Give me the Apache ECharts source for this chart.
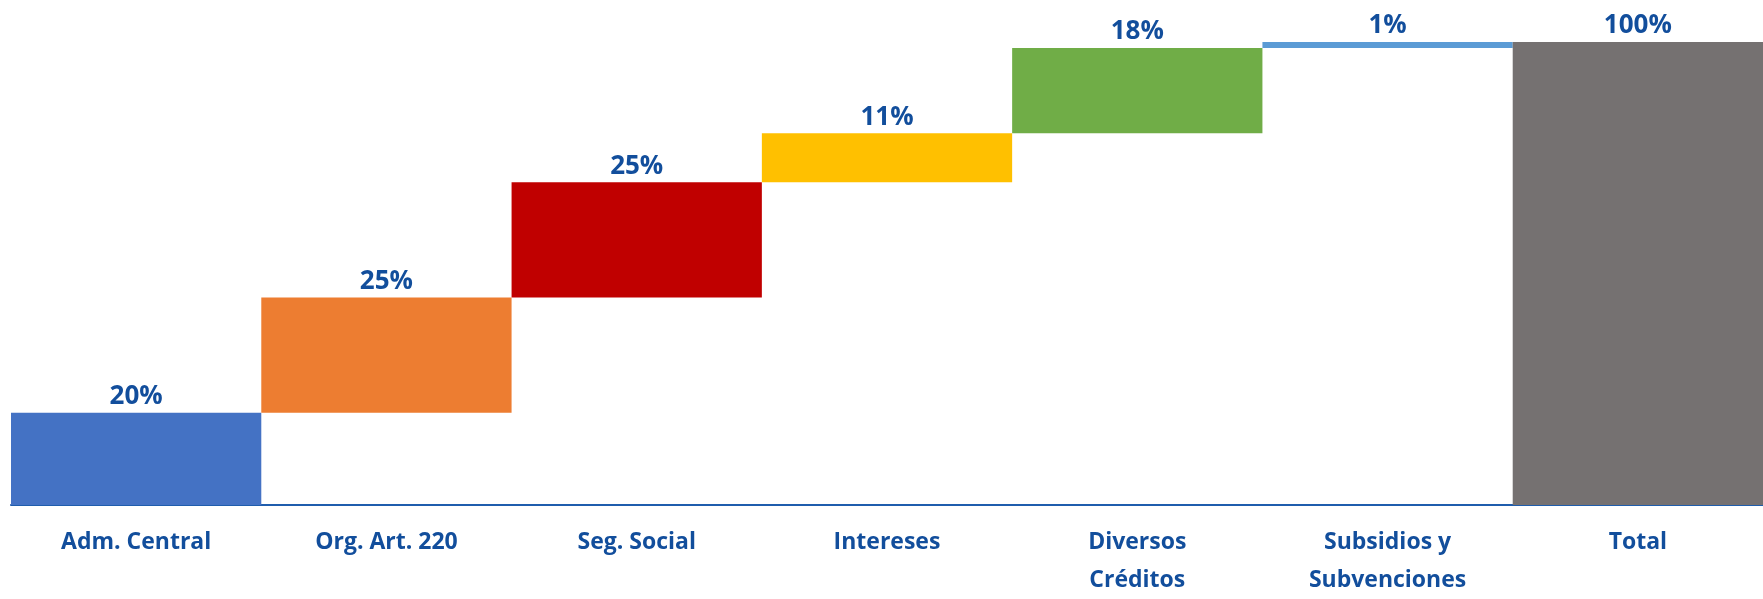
<!DOCTYPE html>
<html>
<head>
<meta charset="utf-8">
<script src="https://cdn.jsdelivr.net/npm/echarts@6/dist/echarts.min.js"></script>
<style>
html,body{margin:0;padding:0;background:#fff;}
#chart{width:1763px;height:599px;}
</style>
</head>
<body>
<div id="chart"></div>
<script>
var categories = ['Adm. Central', 'Org. Art. 220', 'Seg. Social', 'Intereses', 'Diversos\nCréditos', 'Subsidios y\nSubvenciones', 'Total'];
var deltas = [19.9, 24.9, 24.9, 10.6, 18.4, 1.3];
var totalValue = 100;
var colors = ['#4472C4', '#ED7D31', '#C00000', '#FFC000', '#70AD47', '#5B9BD5', '#757171'];

var bases = [];
var values = [];
var run = 0;
for (var i = 0; i < deltas.length; i++) {
  bases.push(run);
  values.push(deltas[i]);
  run += deltas[i];
}
bases.push(0);
values.push(totalValue);

var chart = echarts.init(document.getElementById('chart'), null, {renderer: 'canvas'});
chart.setOption({
  animation: false,
  backgroundColor: '#ffffff',
  grid: {left: 11, top: 42, width: 1771, bottom: 85, containLabel: false},
  xAxis: {
    type: 'category',
    data: categories,
    axisTick: {show: false},
    axisLine: {lineStyle: {color: '#1F5DAD', width: 2}},
    axisLabel: {
      interval: 0,
      margin: 18,
      color: '#124E9C',
      fontFamily: 'Open Sans',
      fontWeight: 'bold',
      fontSize: 23,
      lineHeight: 38
    }
  },
  yAxis: {
    type: 'value',
    min: 0,
    max: 100,
    show: false,
    splitLine: {show: false}
  },
  series: [
    {
      name: 'base',
      type: 'bar',
      stack: 'w',
      barCategoryGap: 0,
      barGap: '-100%',
      itemStyle: {color: 'transparent'},
      emphasis: {disabled: true},
      data: bases
    },
    {
      name: 'value',
      type: 'bar',
      stack: 'w',
      barCategoryGap: 0,
      data: values.map(function (v, i) {
        return {value: v, itemStyle: {color: colors[i]}};
      }),
      label: {
        show: true,
        position: 'top',
        distance: 3,
        color: '#124E9C',
        fontFamily: 'Open Sans',
        fontWeight: 'bold',
        fontSize: 26,
        formatter: function (p) { return Math.round(p.value) + '%'; }
      }
    }
  ]
});
</script>
</body>
</html>
